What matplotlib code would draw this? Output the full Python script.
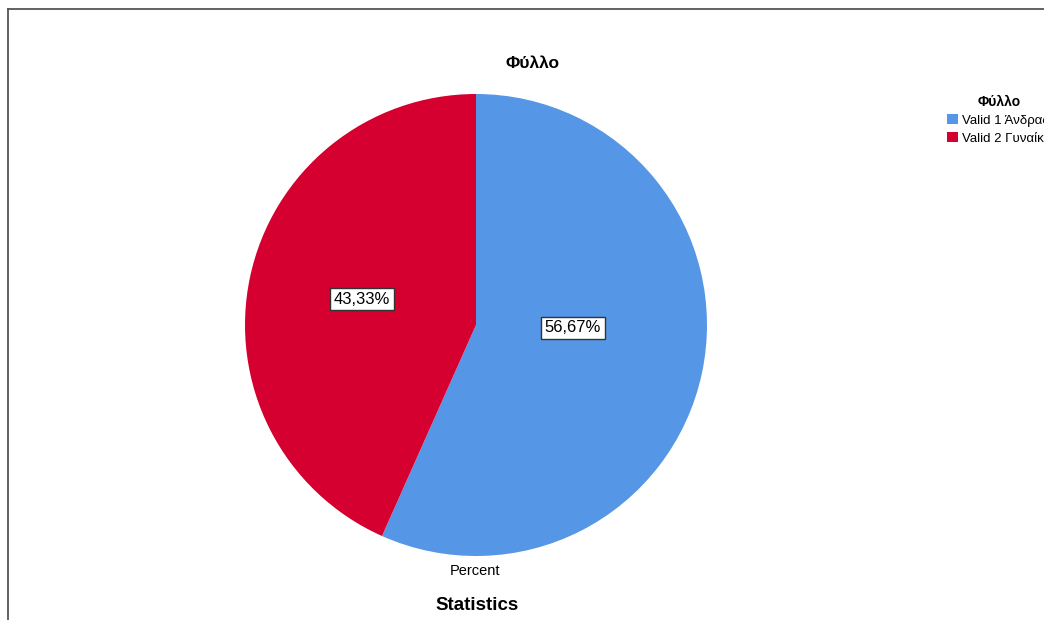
import matplotlib
matplotlib.use("Agg")
import matplotlib.pyplot as plt
from matplotlib.lines import Line2D

plt.rcParams['font.family'] = ['Liberation Sans', 'DejaVu Sans']

# Gender split (percent of valid cases)
categories = ["Valid 1 Άνδρας", "Valid 2 Γυναίκα"]
percents = [56.67, 43.33]
colors = ["#5696E6", "#D50030"]

W, H = 1044, 620
fig = plt.figure(figsize=(W / 100, H / 100), dpi=100)
ax = fig.add_axes([0, 0, 1, 1])

# pie in pixel coordinates (y measured from bottom)
cx, cy, r = 476, H - 325, 231
wedges, _ = ax.pie(percents, colors=colors, startangle=90, counterclock=False,
                   center=(cx, cy), radius=r, frame=True,
                   wedgeprops=dict(linewidth=0))
ax.set_xlim(0, W)
ax.set_ylim(0, H)
ax.set_aspect('equal')
ax.axis('off')

# value labels in boxes
label_pos = [(573, 328), (362, 299)]
box = dict(boxstyle='square,pad=0.22', facecolor='white', edgecolor='#333333', linewidth=1)
for p, (x, y) in zip(percents, label_pos):
    ax.text(x, H - y, f"{p:.2f}%".replace('.', ','), ha='center', va='center',
            fontsize=12, bbox=box, zorder=5)

ax.text(533, H - 63, "Φύλλο", ha='center', va='center', fontsize=12.5, fontweight='bold')
ax.text(475, H - 571, "Percent", ha='center', va='center', fontsize=10.5)
ax.text(477, H - 606, "Statistics", ha='center', va='center', fontsize=13.5, fontweight='bold')

# legend, running off the right edge
leg = ax.legend(wedges, categories, title="Φύλλο", loc='upper left',
                bbox_to_anchor=(947 / W, 1 - 95 / H), bbox_transform=fig.transFigure,
                frameon=False, fontsize=9.5, handlelength=0.8, handleheight=0.8,
                handletextpad=0.35, labelspacing=0.4, borderpad=0, borderaxespad=0,
                title_fontproperties={'weight': 'bold', 'size': 10})

# outer frame lines (top and left)
fig.add_artist(Line2D([8 / W, 1], [1 - 9 / H, 1 - 9 / H], color='#555555', linewidth=1.3,
                      transform=fig.transFigure))
fig.add_artist(Line2D([8 / W, 8 / W], [0, 1 - 9 / H], color='#555555', linewidth=1.3,
                      transform=fig.transFigure))

fig.savefig("out.png", dpi=100, facecolor='white')
